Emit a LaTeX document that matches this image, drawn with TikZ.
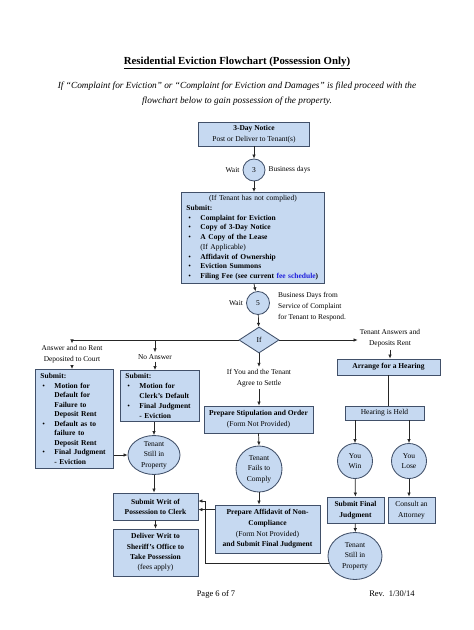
\documentclass[tikz,border=0pt]{standalone}
\usepackage{fontspec}
\setmainfont{Liberation Serif}
\usetikzlibrary{positioning,shapes.geometric,arrows.meta}
\definecolor{boxfill}{RGB}{198,217,241}
\definecolor{boxline}{RGB}{65,80,105}
\definecolor{feeblue}{RGB}{30,30,220}
\newcommand{\bitem}[1]{\hspace*{2pt}\makebox[12pt][l]{\textbullet}#1}
\newcommand{\bcont}[1]{\hspace*{14pt}#1}
\tikzset{
  box/.style={draw=boxline, fill=boxfill, line width=0.85pt, inner sep=0pt, align=center, font=\fontsize{7.5}{10}\selectfont},
  listbox/.style={box, align=left, anchor=north west, inner xsep=5pt, inner ysep=4pt},
  ring/.style={box, circle},
  oval/.style={box, ellipse},
  lbl/.style={align=center, inner sep=2pt, font=\fontsize{7.4}{11}\selectfont},
  arr/.style={-{Latex[length=4pt,width=3.5pt]}, line width=0.7pt, black!85}
}

\begin{document}
\begin{tikzpicture}[x=1pt, y=-1pt]
    \path[fill=white] (0,0) rectangle (474,630);
    \useasboundingbox (0,0) rectangle (474,630);

    % Heading
    \node[font=\bfseries\fontsize{10.8}{12}\selectfont] (title) at (237,63) {\underline{Residential Eviction Flowchart (Possession Only)}};
    \node[align=center, font=\itshape\fontsize{9.3}{15}\selectfont] (intro) at (237,93.5) {If “Complaint for Eviction” or “Complaint for Eviction and Damages” is filed proceed with the\\flowchart below to gain possession of the property.};

    % Define nodes
    \node[box, minimum width=111pt, minimum height=24pt, font=\fontsize{7.5}{11}\selectfont] (notice) at (254,134) {\textbf{3-Day Notice}\\Post or Deliver to Tenant(s)};
    \node[ring, minimum size=22pt] (c3) at (254,170) {3};
    \node[lbl, left=1pt of c3] (wait3) {Wait};
    \node[lbl, right=1pt of c3] (bdays) {Business days};

    \node[listbox, text width=133pt, font=\fontsize{7.5}{9.75}\selectfont, inner ysep=3pt] (submit) at (181,192) {\makebox[133pt]{(If Tenant has not complied)}\\
      \textbf{Submit:}\\
      \bitem{\textbf{Complaint for Eviction}}\\
      \bitem{\textbf{Copy of 3-Day Notice}}\\
      \bitem{\textbf{A Copy of the Lease}}\\
      \bcont{(If Applicable)}\\
      \bitem{\textbf{Affidavit of Ownership}}\\
      \bitem{\textbf{Eviction Summons}}\\
      \bitem{\textbf{Filing Fee (see current \textcolor{feeblue}{fee schedule})}}};

    \node[ring, minimum size=23pt] (c5) at (258,303) {5};
    \node[lbl, left=1pt of c5] (wait5) {Wait};
    \node[lbl, align=left, anchor=north west, font=\fontsize{7.4}{11}\selectfont] (respond) at (276,290) {Business Days from\\Service of Complaint\\for Tenant to Respond.};

    \node[box, diamond, minimum width=40pt, minimum height=26pt] (ifd) at (259,340) {If};

    % left branches
    \node[lbl] (ans1) at (72,354.5) {Answer and no Rent\\Deposited to Court};
    \node[lbl] (noans) at (155,357) {No Answer};
    \node[listbox, text width=68pt, font=\fontsize{7.5}{9.5}\selectfont] (left1) at (35,369) {\textbf{Submit:}\\
      \bitem{\textbf{Motion for}}\\
      \bcont{\textbf{Default for}}\\
      \bcont{\textbf{Failure to}}\\
      \bcont{\textbf{Deposit Rent}}\\
      \bitem{\textbf{Default as to}}\\
      \bcont{\textbf{failure to}}\\
      \bcont{\textbf{Deposit Rent}}\\
      \bitem{\textbf{Final Judgment}}\\
      \bcont{\textbf{- Eviction}}};
    \node[listbox, text width=69pt, inner xsep=5pt, inner ysep=3pt, font=\fontsize{7.5}{10}\selectfont] (left2) at (120,370) {\textbf{Submit:}\\
      \bitem{\textbf{Motion for}}\\
      \bcont{\textbf{Clerk’s Default}}\\
      \bitem{\textbf{Final Judgment}}\\
      \bcont{\textbf{- Eviction}}};
    \node[oval, minimum width=52pt, minimum height=37pt, font=\fontsize{7.5}{10.5}\selectfont] (still1) at (154,455) {Tenant\\Still in\\Property};
    \node[box, minimum width=85pt, minimum height=27pt] (writ) at (155.5,506.5) {\textbf{Submit Writ of}\\\textbf{Possession to Clerk}};
    \node[box, minimum width=85pt, minimum height=47pt, font=\fontsize{7.5}{10.3}\selectfont] (deliver) at (155.5,552.5) {\textbf{Deliver Writ to}\\\textbf{Sheriff’s Office to}\\\textbf{Take Possession}\\(fees apply)};

    % middle branch
    \node[lbl] (settle) at (259,378) {If You and the Tenant\\Agree to Settle};
    \node[box, minimum width=109pt, minimum height=27pt, font=\fontsize{7.5}{11}\selectfont] (stip) at (258.5,419.5) {\textbf{Prepare Stipulation and Order}\\(Form Not Provided)};
    \node[ring, minimum size=46pt, font=\fontsize{7.5}{10.5}\selectfont] (fails) at (259,469) {Tenant\\Fails to\\Comply};
    \node[box, minimum width=105pt, minimum height=48pt, font=\fontsize{7.5}{10.7}\selectfont] (affid) at (267.5,529) {\textbf{Prepare Affidavit of Non-}\\\textbf{Compliance}\\(Form Not Provided)\\\textbf{and Submit Final Judgment}};

    % right branch
    \node[lbl] (answers) at (390,338.5) {Tenant Answers and\\Deposits Rent};
    \node[box, minimum width=103pt, minimum height=16pt] (hearing) at (388.5,367) {\textbf{Arrange for a Hearing}};
    \node[box, minimum width=79pt, minimum height=14pt] (held) at (384.5,413) {Hearing is Held};
    \node[ring, minimum size=35pt] (win) at (355,461) {You\\Win};
    \node[ring, minimum size=35pt] (lose) at (409,461) {You\\Lose};
    \node[box, minimum width=57pt, minimum height=26pt, font=\fontsize{7.5}{11}\selectfont] (final) at (355.5,510) {\textbf{Submit Final}\\\textbf{Judgment}};
    \node[box, minimum width=47pt, minimum height=26pt, font=\fontsize{7.5}{11}\selectfont] (consult) at (411.5,510) {Consult an\\Attorney};
    \node[oval, minimum width=54pt, minimum height=47pt, font=\fontsize{7.5}{10.5}\selectfont] (still2) at (355,556) {Tenant\\Still in\\Property};
    \coordinate (jog) at (205,501);

    % Footer
    \node[font=\fontsize{8.5}{10}\selectfont] (page) at (216,594) {Page 6 of 7};
    \node[font=\fontsize{8.5}{10}\selectfont] (rev) at (392,594) {Rev.\ \ 1/30/14};

    % Connect nodes
    \draw[arr] (notice) -- (c3);
    \draw[arr] (c3) -- (c3 |- submit.north);
    \draw[arr] (c3 |- submit.south) -- (c5);
    \draw[arr] (c5) -- (ifd);
    \draw[arr] (ifd.west) -| (ans1.north);
    \draw[arr] (ans1.south) -- (ans1.south |- left1.north);
    \draw[arr] (ifd.west -| noans.north) -- (noans.north);
    \draw[arr] (noans.south) -- (noans.south |- left2.north);
    \draw[arr] (left2.south -| still1.north) -- (still1.north);
    \draw[arr] (left1.east |- still1.west) -- (still1.west);
    \draw[arr] (still1.south) -- (still1.south |- writ.north);
    \draw[arr] (writ) -- (deliver);
    \draw[arr] (ifd.south) -- (settle.north);
    \draw[arr] (settle.south) -- (settle.south |- stip.north);
    \draw[arr] (stip.south) -- (fails.north);
    \draw[arr] (fails.south) -- (fails.south |- affid.north);
    \draw[arr] ([yshift=-5pt]affid.north west) -- ([yshift=-5pt]affid.north west -| writ.east);
    \draw[arr] (still2.195) -| (jog) -- (jog -| writ.east);
    \draw[arr] (ifd.east) -- (ifd.east -| answers.west);
    \draw[arr] (answers.south) -- (answers.south |- hearing.north);
    \draw[line width=0.7pt, black!85] (hearing.south) -- (hearing.south |- held.north);
    \draw[arr] (win.north |- held.south) -- (win.north);
    \draw[arr] (lose.north |- held.south) -- (lose.north);
    \draw[arr] (win) -- (final);
    \draw[arr] (lose.south) -- (lose.south |- consult.north);
    \draw[arr] (final) -- (still2);
\end{tikzpicture}
\end{document}
